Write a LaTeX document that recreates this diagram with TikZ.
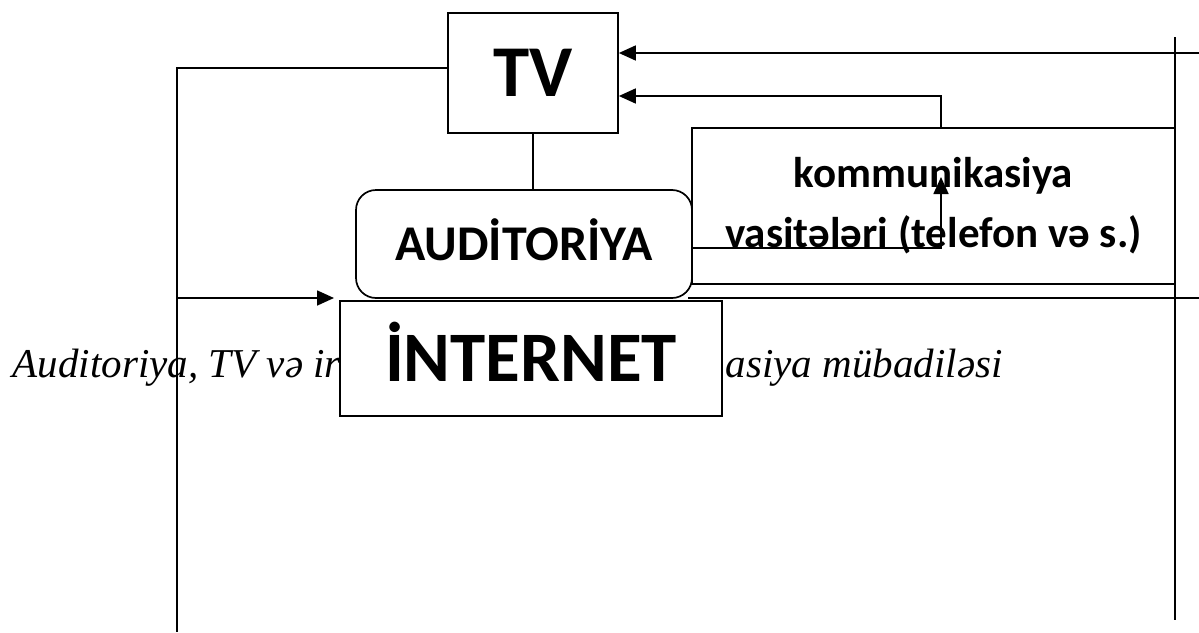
\documentclass[tikz,border=0pt]{standalone}
\usepackage{fontspec}
\setmainfont{Liberation Serif}
\newfontfamily\boxfont{Carlito}
\usetikzlibrary{arrows.meta}
\begin{document}
\begin{tikzpicture}[x=1pt,y=-1pt,
  line width=1.7pt,
  box/.style={draw, line width=1.7pt, inner sep=0pt, font=\boxfont\bfseries},
  arr/.style={-{Triangle[length=17pt,width=15pt]}},
  captext/.style={inner sep=0pt, anchor=base west, font=\itshape\fontsize{41}{46}\selectfont}]
\useasboundingbox (0,0) rectangle (1199,632);
% caption (partly hidden behind the INTERNET box)
\node[captext] (capL) at (12,377) {Auditoriya, TV və ir};
\node[captext] (capR) at (725,377) {asiya mübadiləsi};
% boxes
\node[box, text height=47pt, text depth=0pt, minimum width=170pt, minimum height=120pt, font=\boxfont\bfseries\fontsize{73}{80}\selectfont] (TV) at (533,73) {TV};
\node[box, text height=32pt, text depth=0pt, rounded corners=20pt, fill=white, minimum width=336pt, minimum height=108pt, font=\boxfont\bfseries\fontsize{50}{56}\selectfont] (AUD) at (524,244) {AUDİTORİYA};
\node[box, minimum width=483pt, minimum height=156pt, align=center, font=\boxfont\bfseries\fontsize{43}{60}\selectfont] (COM) at (933.5,206) {kommunikasiya\\vasitələri (telefon və s.)};
\node[box, text height=46pt, text depth=0pt, fill=white, minimum width=382pt, minimum height=115pt, font=\boxfont\bfseries\fontsize{71}{78}\selectfont] (NET) at (531,358.5) {İNTERNET};
% coordinates
\coordinate (L1) at (177,68);
\coordinate (L2) at (177,632);
\coordinate (Lm) at (177,298);
\coordinate (Atip) at (334,298);
\coordinate (R0) at (1199,53);
\coordinate (Rt) at (1175,37);
\coordinate (Rb) at (1175,620);
\coordinate (C1) at (941,96);
\coordinate (C2) at (692,248);
\coordinate (C3) at (941,248);
\coordinate (Ctip) at (941,177);
\coordinate (B1) at (688,298);
\coordinate (B2) at (1199,298);
% connectors
\draw (TV.west |- L1) -- (L1) -- (L2);
\draw[arr] (Lm) -- (Atip);
\draw (TV.south) -- (TV.south |- AUD.north);
\draw[arr] (R0) -- (TV.east |- R0);
\draw (Rt) -- (Rb);
\draw[arr] (COM.north -| C1) -- (C1) -- (TV.east |- C1);
\draw[arr] (C2) -- (C3) -- (Ctip);
\draw (B1) -- (B2);
\end{tikzpicture}
\end{document}
